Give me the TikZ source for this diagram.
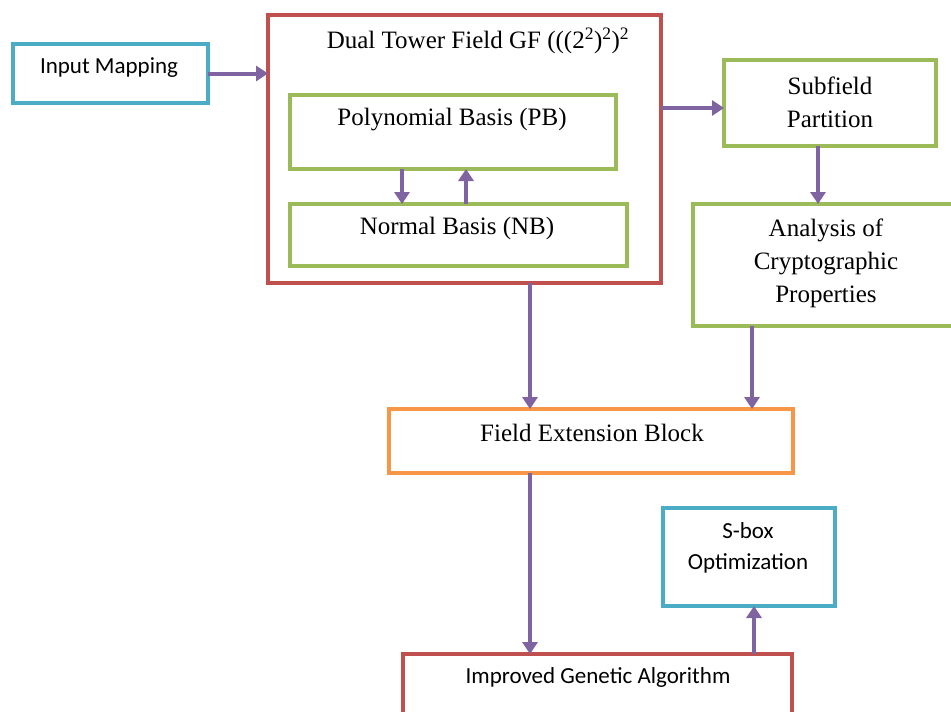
\documentclass[tikz,border=0pt]{standalone}
\usepackage{fontspec}
\setmainfont{Liberation Serif}
\newfontfamily\carlito{Carlito}
\usetikzlibrary{arrows.meta}
\definecolor{cblue}{HTML}{4BACC6}
\definecolor{cred}{HTML}{C0504D}
\definecolor{cgreen}{HTML}{9BBB59}
\definecolor{corange}{HTML}{F79646}
\definecolor{cpurple}{HTML}{8064A2}
\tikzset{
  boxnode/.style={draw=#1, line width=4pt, rectangle, inner sep=0pt, outer sep=0pt, fill=white},
  serift/.style={font=\fontsize{25}{33}\selectfont, align=center, inner sep=0pt},
  sanst/.style={font=\carlito\fontsize{23}{31}\selectfont, align=center, inner sep=0pt},
  conn/.style={draw=cpurple, line width=4pt, -{Triangle[length=12pt,width=15pt]}}
}
\begin{document}
\begin{tikzpicture}[x=1pt,y=-1pt]
\useasboundingbox (0,0) rectangle (951,712);
% boxes
\node[boxnode=cblue, minimum width=195pt, minimum height=59pt] (input) at (110.5,73.5) {};
\node[boxnode=cred, minimum width=393pt, minimum height=268pt] (dual) at (464.5,149) {};
\node[boxnode=cgreen, minimum width=326pt, minimum height=74pt] (pb) at (453,132) {};
\node[boxnode=cgreen, minimum width=337pt, minimum height=62pt] (nb) at (458.5,235) {};
\node[boxnode=cgreen, minimum width=212pt, minimum height=86pt] (sub) at (830,103) {};
\node[boxnode=cgreen, minimum width=260pt, minimum height=122pt] (ana) at (823,265) {};
\node[boxnode=corange, minimum width=404pt, minimum height=64pt] (feb) at (591,441) {};
\node[boxnode=cblue, minimum width=172pt, minimum height=98pt] (sbox) at (749,557) {};
\node[boxnode=cred, minimum width=389pt, minimum height=60pt] (ga) at (597.5,684) {};
% texts
\node[sanst] (tinput) at (109,68) {Input Mapping};
\node[serift] (tdual) at (478,41) {Dual Tower Field GF (((2\textsuperscript{2})\textsuperscript{2})\textsuperscript{2}};
\node[serift] (tpb) at (452,120) {Polynomial Basis (PB)};
\node[serift] (tnb) at (457,228) {Normal Basis (NB)};
\node[serift] (tsub) at (830,102.5) {Subfield\\Partition};
\node[serift] (tana) at (826,263) {Analysis of\\Cryptographic\\Properties};
\node[serift] (tfeb) at (592,433) {Field Extension Block};
\node[sanst] (tsbox) at (748,547.5) {S-box\\Optimization};
\node[sanst] (tga) at (598,677) {Improved Genetic Algorithm};
% connectors
\draw[conn] (input.east) -- (input.east -| dual.west);
\draw[conn] ([yshift=-5pt]sub.west -| dual.east) -- ([yshift=-5pt]sub.west);
\draw[conn] ([xshift=-51pt]pb.south) -- ([xshift=-51pt]pb.south |- nb.north);
\draw[conn] ([xshift=13pt]pb.south |- nb.north) -- ([xshift=13pt]pb.south);
\draw[conn] ([xshift=-12pt]sub.south) -- ([xshift=-12pt]sub.south |- ana.north);
\draw[conn] ([xshift=65.5pt]dual.south) -- ([xshift=65.5pt]dual.south |- feb.north);
\draw[conn] ([xshift=-71pt]ana.south) -- ([xshift=-71pt]ana.south |- feb.north);
\draw[conn] ([xshift=65.5pt]dual.south |- feb.south) -- ([xshift=65.5pt]dual.south |- ga.north);
\draw[conn] ([xshift=156.5pt]ga.north) -- ([xshift=156.5pt]ga.north |- sbox.south);
\end{tikzpicture}
\end{document}
